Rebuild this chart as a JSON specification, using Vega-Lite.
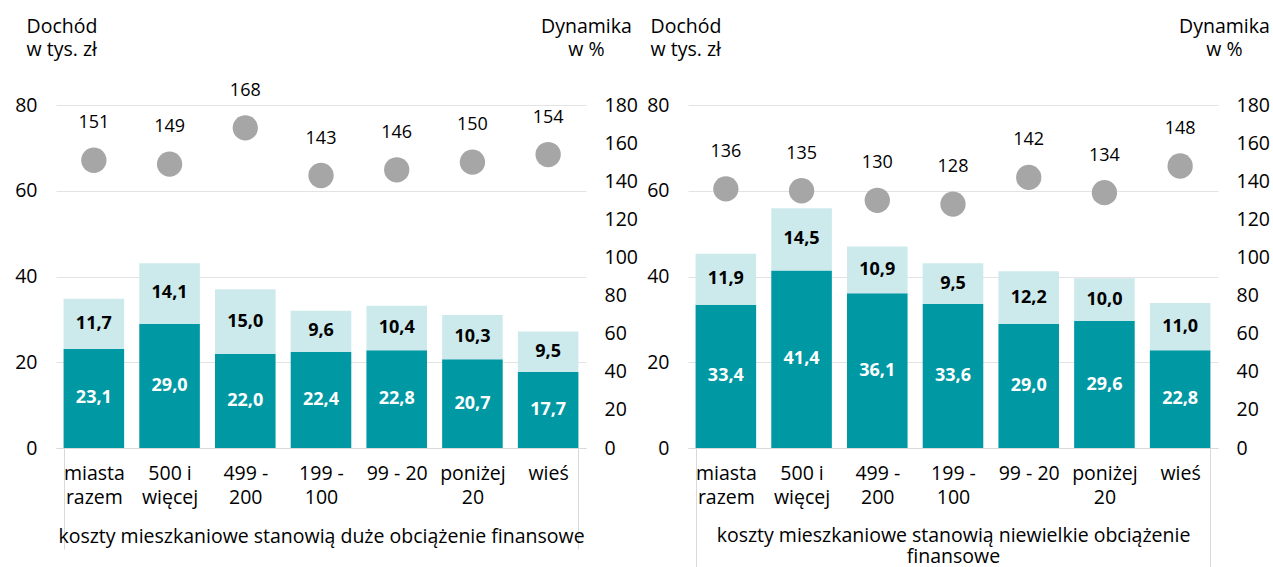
{
  "$schema": "https://vega.github.io/schema/vega-lite/v6.json",
  "background": "white",
  "padding": {"left": 14, "top": 16, "right": 5, "bottom": 0},
  "spacing": 8,
  "config": {
    "font": "Open Sans",
    "view": {"stroke": null},
    "locale": {"number": {"decimal": ",", "thousands": " ", "grouping": [3], "currency": ["", " zł"]}},
    "axis": {"labelFont": "Open Sans", "labelFontSize": 19.5, "labelColor": "#000000", "titleFont": "Open Sans", "titleFontSize": 19.5, "titleFontWeight": "normal", "titleColor": "#000000", "labelOverlap": false},
    "text": {"font": "Open Sans"}
  },
  "datasets": {
    "A_bars": [
      {"cat": "miasta|razem", "part": "a", "v": 23.1}, {"cat": "miasta|razem", "part": "b", "v": 11.7},
      {"cat": "500 i|więcej", "part": "a", "v": 29.0}, {"cat": "500 i|więcej", "part": "b", "v": 14.1},
      {"cat": "499 -|200", "part": "a", "v": 22.0}, {"cat": "499 -|200", "part": "b", "v": 15.0},
      {"cat": "199 -|100", "part": "a", "v": 22.4}, {"cat": "199 -|100", "part": "b", "v": 9.6},
      {"cat": "99 - 20", "part": "a", "v": 22.8}, {"cat": "99 - 20", "part": "b", "v": 10.4},
      {"cat": "poniżej|20", "part": "a", "v": 20.7}, {"cat": "poniżej|20", "part": "b", "v": 10.3},
      {"cat": "wieś", "part": "a", "v": 17.7}, {"cat": "wieś", "part": "b", "v": 9.5}
    ],
    "A_dyn": [
      {"cat": "miasta|razem", "dyn": 151}, {"cat": "500 i|więcej", "dyn": 149}, {"cat": "499 -|200", "dyn": 168},
      {"cat": "199 -|100", "dyn": 143}, {"cat": "99 - 20", "dyn": 146}, {"cat": "poniżej|20", "dyn": 150}, {"cat": "wieś", "dyn": 154}
    ],
    "B_bars": [
      {"cat": "miasta|razem", "part": "a", "v": 33.4}, {"cat": "miasta|razem", "part": "b", "v": 11.9},
      {"cat": "500 i|więcej", "part": "a", "v": 41.4}, {"cat": "500 i|więcej", "part": "b", "v": 14.5},
      {"cat": "499 -|200", "part": "a", "v": 36.1}, {"cat": "499 -|200", "part": "b", "v": 10.9},
      {"cat": "199 -|100", "part": "a", "v": 33.6}, {"cat": "199 -|100", "part": "b", "v": 9.5},
      {"cat": "99 - 20", "part": "a", "v": 29.0}, {"cat": "99 - 20", "part": "b", "v": 12.2},
      {"cat": "poniżej|20", "part": "a", "v": 29.6}, {"cat": "poniżej|20", "part": "b", "v": 10.0},
      {"cat": "wieś", "part": "a", "v": 22.8}, {"cat": "wieś", "part": "b", "v": 11.0}
    ],
    "B_dyn": [
      {"cat": "miasta|razem", "dyn": 136}, {"cat": "500 i|więcej", "dyn": 135}, {"cat": "499 -|200", "dyn": 130},
      {"cat": "199 -|100", "dyn": 128}, {"cat": "99 - 20", "dyn": 142}, {"cat": "poniżej|20", "dyn": 134}, {"cat": "wieś", "dyn": 148}
    ]
  },
  "hconcat": [
    {
      "width": 530,
      "height": 343,
      "layer": [
        {
          "data": {"name": "A_bars"},
          "layer": [
            {
              "mark": {"type": "bar"},
              "encoding": {
                "x": {"field": "cat", "type": "nominal", "sort": null,
                  "scale": {"type": "band", "domain": ["miasta|razem", "500 i|więcej", "499 -|200", "199 -|100", "99 - 20", "poniżej|20", "wieś"], "paddingInner": 0.2, "paddingOuter": 0.1},
                  "axis": {"title": "koszty mieszkaniowe stanowią duże obciążenie finansowe", "titleY": 94, "titleBaseline": "alphabetic", "labelAngle": 0, "labelExpr": "split(datum.label, '|')", "labelLineHeight": 24, "labelBaseline": "top", "labelPadding": -85, "domainColor": "#D9D9D9", "tickBand": "extent", "tickSize": 101,
                    "tickColor": {"condition": {"test": "datum.index < 0 || datum.value === 'wieś'", "value": "#D9D9D9"}, "value": "rgba(0,0,0,0)"}}},
                "y": {"field": "v", "type": "quantitative", "stack": "zero", "scale": {"domain": [0, 80]},
                  "axis": {"title": ["Dochód", "w tys. zł"], "titleAngle": 0, "titleAlign": "left", "titleBaseline": "alphabetic", "titleX": -30, "titleY": -73, "titleLineHeight": 23, "values": [0, 20, 40, 60, 80], "tickCount": 5, "grid": true, "gridColor": "#E3E3E3", "domain": false, "ticks": false, "labelPadding": 19, "labelOverlap": false}},
                "color": {"field": "part", "type": "nominal", "scale": {"domain": ["a", "b"], "range": ["#0099A3", "#CCEAEC"]}, "legend": null},
                "order": {"field": "part", "type": "ordinal", "sort": "ascending"}
              }
            },
            {
              "mark": {"type": "text", "fontWeight": "bold", "fontSize": 18},
              "encoding": {
                "x": {"field": "cat", "type": "nominal", "sort": null},
                "y": {"field": "v", "type": "quantitative", "stack": "zero", "bandPosition": 0.5},
                "order": {"field": "part", "type": "ordinal", "sort": "ascending"},
                "text": {"field": "v", "type": "quantitative", "format": ".1f"},
                "color": {"condition": {"test": "datum.part === 'a'", "value": "white"}, "value": "black"}
              }
            }
          ]
        },
        {
          "data": {"name": "A_dyn"},
          "layer": [
            {
              "mark": {"type": "circle", "size": 640, "color": "#A6A6A6", "opacity": 1},
              "encoding": {
                "x": {"field": "cat", "type": "nominal", "sort": null},
                "y": {"field": "dyn", "type": "quantitative", "scale": {"domain": [0, 180], "nice": false, "zero": true},
                  "axis": {"orient": "right", "title": ["Dynamika", "w %"], "titleAngle": 0, "titleAlign": "center", "titleBaseline": "alphabetic", "titleX": 0, "titleY": -73, "titleLineHeight": 23, "values": [0, 20, 40, 60, 80, 100, 120, 140, 160, 180], "tickCount": 10, "grid": false, "domain": false, "ticks": false, "labelPadding": 18, "labelOverlap": false}}
              }
            },
            {
              "mark": {"type": "text", "dy": -37, "fontSize": 18, "color": "black"},
              "encoding": {
                "x": {"field": "cat", "type": "nominal", "sort": null},
                "y": {"field": "dyn", "type": "quantitative"},
                "text": {"field": "dyn", "type": "quantitative"}
              }
            }
          ]
        }
      ],
      "resolve": {"scale": {"y": "independent"}}
    },
    {
      "width": 530,
      "height": 343,
      "layer": [
        {
          "data": {"name": "B_bars"},
          "layer": [
            {
              "mark": {"type": "bar"},
              "encoding": {
                "x": {"field": "cat", "type": "nominal", "sort": null,
                  "scale": {"type": "band", "domain": ["miasta|razem", "500 i|więcej", "499 -|200", "199 -|100", "99 - 20", "poniżej|20", "wieś"], "paddingInner": 0.2, "paddingOuter": 0.1},
                  "axis": {"title": ["koszty mieszkaniowe stanowią niewielkie obciążenie", "finansowe"], "titleY": 93, "titleBaseline": "alphabetic", "titleLineHeight": 21, "labelAngle": 0, "labelExpr": "split(datum.label, '|')", "labelLineHeight": 24, "labelBaseline": "top", "labelPadding": -104, "domainColor": "#D9D9D9", "tickBand": "extent", "tickSize": 120,
                    "tickColor": {"condition": {"test": "datum.index < 0 || datum.value === 'wieś'", "value": "#D9D9D9"}, "value": "rgba(0,0,0,0)"}}},
                "y": {"field": "v", "type": "quantitative", "stack": "zero", "scale": {"domain": [0, 80]},
                  "axis": {"title": ["Dochód", "w tys. zł"], "titleAngle": 0, "titleAlign": "left", "titleBaseline": "alphabetic", "titleX": -38, "titleY": -73, "titleLineHeight": 23, "values": [0, 20, 40, 60, 80], "tickCount": 5, "grid": true, "gridColor": "#E3E3E3", "domain": false, "ticks": false, "labelPadding": 19, "labelOverlap": false}},
                "color": {"field": "part", "type": "nominal", "scale": {"domain": ["a", "b"], "range": ["#0099A3", "#CCEAEC"]}, "legend": null},
                "order": {"field": "part", "type": "ordinal", "sort": "ascending"}
              }
            },
            {
              "mark": {"type": "text", "fontWeight": "bold", "fontSize": 18},
              "encoding": {
                "x": {"field": "cat", "type": "nominal", "sort": null},
                "y": {"field": "v", "type": "quantitative", "stack": "zero", "bandPosition": 0.5},
                "order": {"field": "part", "type": "ordinal", "sort": "ascending"},
                "text": {"field": "v", "type": "quantitative", "format": ".1f"},
                "color": {"condition": {"test": "datum.part === 'a'", "value": "white"}, "value": "black"}
              }
            }
          ]
        },
        {
          "data": {"name": "B_dyn"},
          "layer": [
            {
              "mark": {"type": "circle", "size": 640, "color": "#A6A6A6", "opacity": 1},
              "encoding": {
                "x": {"field": "cat", "type": "nominal", "sort": null},
                "y": {"field": "dyn", "type": "quantitative", "scale": {"domain": [0, 180], "nice": false, "zero": true},
                  "axis": {"orient": "right", "title": ["Dynamika", "w %"], "titleAngle": 0, "titleAlign": "center", "titleBaseline": "alphabetic", "titleX": 6, "titleY": -73, "titleLineHeight": 23, "values": [0, 20, 40, 60, 80, 100, 120, 140, 160, 180], "tickCount": 10, "grid": false, "domain": false, "ticks": false, "labelPadding": 18, "labelOverlap": false}}
              }
            },
            {
              "mark": {"type": "text", "dy": -37, "fontSize": 18, "color": "black"},
              "encoding": {
                "x": {"field": "cat", "type": "nominal", "sort": null},
                "y": {"field": "dyn", "type": "quantitative"},
                "text": {"field": "dyn", "type": "quantitative"}
              }
            }
          ]
        }
      ],
      "resolve": {"scale": {"y": "independent"}}
    }
  ]
}
